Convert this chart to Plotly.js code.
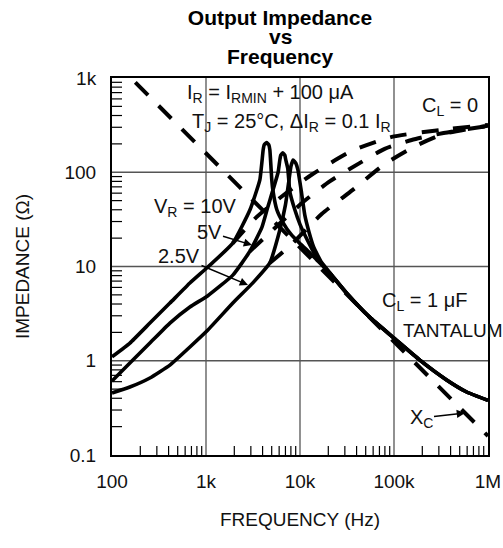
<!DOCTYPE html>
<html>
<head>
<meta charset="utf-8">
<script src="https://cdn.plot.ly/plotly-3.0.1.min.js"></script>
<style>html,body{margin:0;padding:0;background:#fff;}#chart{width:503px;height:548px;}</style>
</head>
<body>
<div id="chart"></div>
<script>
// ---- data (frequency in Hz, impedance in ohms) ----
const freq10V = [100,155,253,413,674,1047,1930,2930,3740,4055,4160,4400,4660,4780,5010,5140,5670,6500,8000,10000,12000,15000,20700,31400,55000,100000,187000,363000,593000,1000000];
const imp10V  = [1.10,1.54,2.51,4.09,6.68,9.88,17.7,39.7,83,172,195,206,195,172,83,65,40,30,22,17.5,14.8,11.8,8.5,5.2,2.9,1.74,1.02,0.625,0.466,0.38];

const freq5V = [100,155,253,413,674,1047,1930,2930,3930,4520,5850,6100,6250,6560,6890,7060,7410,7800,8810,10000,12000,15000,20700,31400,55000,100000,187000,363000,593000,1000000];
const imp5V  = [0.61,0.946,1.54,2.51,3.72,4.9,8.1,14.5,26,42,100,135,152,161,152,135,110,62,40,28,19,12.5,8.6,5.2,2.9,1.74,1.02,0.625,0.466,0.38];

const freq2V5 = [100,155,253,413,674,1047,1930,3150,4770,6100,7000,7600,8000,8450,9020,9500,10400,11250,12500,14000,17000,20700,31400,55000,100000,187000,363000,593000,1000000];
const imp2V5  = [0.455,0.526,0.656,0.90,1.40,2.12,4.1,6.7,10.9,24.4,45,80,115,135,125,106,60,35,23,16,11,8.6,5.2,2.9,1.74,1.02,0.625,0.466,0.38];

// C_L = 0 (no output capacitor)
const freqNoCap10V = [1930,3400,6500,13300,35500,94600,313000,1000000];
const impNoCap10V  = [17.7,33,56,94,168,237,281,317];
const freqNoCap5V = [2930,5270,10700,20700,43000,79600,154000,337000,1000000];
const impNoCap5V  = [14.5,25,48,80,125,177,220,261,310];
const freqNoCap2V5 = [4770,7800,17000,36400,79600,170000,340000,1000000];
const impNoCap2V5  = [10.9,16.5,36,65,122,190,255,312];

// X_C of 1 uF
const freqXc = [100,1000,10000,100000,1000000];
const impXc  = [1590,159,15.9,1.59,0.159];

const xTickVals = [100,1000,10000,100000,1000000];
const xTickText = ['100','1k','10k','100k','1M'];
const yTickVals = [0.1,1,10,100,1000];
const yTickText = ['0.1','1','10','100','1k'];

// minor (2..9) tick positions inside each decade
function minorTicks(decades) {
  const out = [];
  decades.forEach(d => { for (let k = 2; k <= 9; k++) out.push(d * k); });
  return out;
}
const xMinor = minorTicks([100,1000,10000,100000]);
const yMinor = minorTicks([0.1,1,10,100]);

// ---- helpers for placing text (plot area: 112..488 px, 78..455 px) ----
const PLOT_W = 376, PLOT_H = 377;
const PX = px => (px - 112) / PLOT_W;
const PY = py => (455 - py) / PLOT_H;

const solid = {color:'#000', width:3.6, shape:'spline', smoothing:0.4};
const dashed = {color:'#000', width:4, dash:'17px,15px', shape:'spline', smoothing:0.6};

const traces = [
  {x:freqXc, y:impXc, mode:'lines', line:{color:'#000', width:4, dash:'18px,15px'}, name:'Xc', showlegend:false},
  {x:freqNoCap10V, y:impNoCap10V, mode:'lines', line:dashed, showlegend:false},
  {x:freqNoCap5V, y:impNoCap5V, mode:'lines', line:dashed, showlegend:false},
  {x:freqNoCap2V5, y:impNoCap2V5, mode:'lines', line:dashed, showlegend:false},
  {x:freq10V, y:imp10V, mode:'lines', line:solid, showlegend:false},
  {x:freq5V, y:imp5V, mode:'lines', line:solid, showlegend:false},
  {x:freq2V5, y:imp2V5, mode:'lines', line:solid, showlegend:false}
];

const FAM = 'Liberation Sans, Arial, sans-serif';
const tfont = {family:FAM, size:20, color:'#111'};
const titleFont = {family:FAM, size:21, color:'#000', weight:'bold'};

function txt(text, px, py, extra) {
  return Object.assign({text:text, xref:'paper', yref:'paper', x:PX(px), y:PY(py),
    xanchor:'center', yanchor:'middle', showarrow:false, font:tfont}, extra || {});
}
function arrowTxt(text, tipPx, tipPy, txtPx, txtPy) {
  return {text:text, xref:'paper', yref:'paper', x:PX(tipPx), y:PY(tipPy),
    ax:txtPx - tipPx, ay:txtPy - tipPy, showarrow:true, arrowhead:2, arrowsize:1.1,
    arrowwidth:1.5, arrowcolor:'#000', standoff:0, font:tfont};
}

const annotations = [
  txt('vs', 280, 37, {font:titleFont}),
  txt('Frequency', 280, 56, {font:titleFont}),
  txt('I<sub>R</sub> = I<sub>RMIN</sub> + 100 μA', 270, 93),
  txt('T<sub>J</sub> = 25°C, ΔI<sub>R</sub> = 0.1 I<sub>R</sub>', 291, 122),
  txt('C<sub>L</sub> = 0', 450, 107),
  txt('V<sub>R</sub> = 10V', 195, 207),
  arrowTxt('5V', 252, 245, 209, 232),
  arrowTxt('2.5V', 248, 285, 179, 256),
  txt('C<sub>L</sub> = 1 μF', 424, 301),
  txt('TANTALUM', 401, 330, {xanchor:'left', font:{family:FAM, size:19, color:'#111'}}),
  arrowTxt('X<sub>C</sub>', 465, 413, 421, 418)
];

// decade grid lines and inside minor ticks, built from the tick arrays (data units on the log axes)
const gridStyle = {color:'#555', width:1.3};
const minorStyle = {color:'#000', width:1.2};
const shapes = [];
xTickVals.slice(1, -1).forEach(v => shapes.push({type:'line', xref:'x', yref:'paper',
  x0:v, x1:v, y0:0, y1:1, line:gridStyle, layer:'below'}));
yTickVals.slice(1, -1).forEach(v => shapes.push({type:'line', xref:'paper', yref:'y',
  x0:0, x1:1, y0:v, y1:v, line:gridStyle, layer:'below'}));
xMinor.forEach(v => shapes.push({type:'line', xref:'x', yref:'paper',
  x0:v, x1:v, y0:0, y1:9 / PLOT_H, line:minorStyle, layer:'above'}));
yMinor.forEach(v => shapes.push({type:'line', xref:'paper', yref:'y',
  x0:0, x1:10 / PLOT_W, y0:v, y1:v, line:minorStyle, layer:'above'}));

const axisCommon = {
  type:'log', showline:true, linecolor:'#000', linewidth:2, mirror:true,
  showgrid:false, zeroline:false, tickmode:'array', ticks:'',
  tickfont:{family:FAM, size:19, color:'#111'}
};

const layout = {
  width:503, height:548,
  margin:{l:112, r:15, t:78, b:93},
  paper_bgcolor:'#fff', plot_bgcolor:'#fff',
  showlegend:false,
  title:{text:'Output Impedance', font:titleFont, x:280/503, xanchor:'center', y:1 - 18/548, yanchor:'middle'},
  xaxis:Object.assign({}, axisCommon, {
    range:[2,6], tickvals:xTickVals, ticktext:xTickText, ticklabelstandoff:8,
    title:{text:'FREQUENCY (Hz)', font:{family:FAM, size:19, color:'#111'}, standoff:22}
  }),
  yaxis:Object.assign({}, axisCommon, {
    range:[-1,3], tickvals:yTickVals, ticktext:yTickText, ticklabelstandoff:10,
    title:{text:'IMPEDANCE (Ω)', font:{family:FAM, size:19, color:'#111'}, standoff:30}
  }),
  shapes:shapes,
  annotations:annotations
};

Plotly.newPlot('chart', traces, layout, {displayModeBar:false, staticPlot:true});
</script>
</body>
</html>
